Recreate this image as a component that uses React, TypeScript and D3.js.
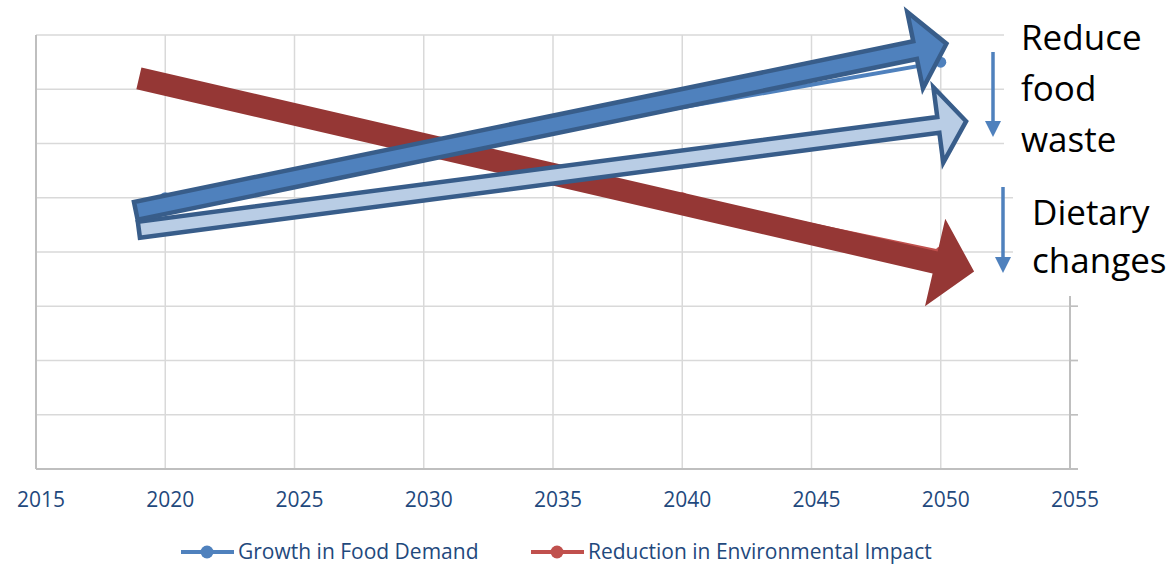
import React from "react";
import * as d3 from "d3";

// Series values
const growthYears = [2020, 2050];
const growthValues = [5, 7.5];
const impactYears = [2020, 2040, 2050];
const impactValues = [7, 5, 4];

// Axis ticks
const yearTicks = [2015, 2020, 2025, 2030, 2035, 2040, 2045, 2050, 2055];
const levelTicks = [0, 1, 2, 3, 4, 5, 6, 7, 8];

// Legend entries
const seriesNames = ["Growth in Food Demand", "Reduction in Environmental Impact"];

// Trend arrows in data units: [tailYear, tailLevel, tipYear, tipLevel]
const impactTrend = [2018.98, 7.2, 2051.29, 3.64];
const reducedDemandTrend = [2018.98, 4.41, 2050.98, 6.41];
const demandTrend = [2018.86, 4.76, 2050.22, 7.84];

// Side notes
const wasteNote = ["Reduce", "food", "waste"];
const dietNote = ["Dietary", "changes"];

const W = 1175;
const H = 565;
const FONT = "'Open Sans', 'DejaVu Sans', sans-serif";

const x = d3.scaleLinear().domain([2015, 2055]).range([36, 1070]);
const y = d3.scaleLinear().domain([0, 8]).range([469, 35]);

function blockArrow(
  t: number[],
  shaft: number,
  headW: number,
  headL: number
): string {
  const x0 = x(t[0]);
  const y0 = y(t[1]);
  const x1 = x(t[2]);
  const y1 = y(t[3]);
  const len = Math.hypot(x1 - x0, y1 - y0);
  const ux = (x1 - x0) / len;
  const uy = (y1 - y0) / len;
  const nx = -uy;
  const ny = ux;
  const bx = x1 - ux * headL;
  const by = y1 - uy * headL;
  const pts: [number, number][] = [
    [x0 + nx * shaft / 2, y0 + ny * shaft / 2],
    [bx + nx * shaft / 2, by + ny * shaft / 2],
    [bx + nx * headW / 2, by + ny * headW / 2],
    [x1, y1],
    [bx - nx * headW / 2, by - ny * headW / 2],
    [bx - nx * shaft / 2, by - ny * shaft / 2],
    [x0 - nx * shaft / 2, y0 - ny * shaft / 2],
  ];
  return "M" + pts.map((p) => p.join(",")).join("L") + "Z";
}

export default function App() {
  const growthLine = d3
    .line<number>()
    .x((_, i) => x(growthYears[i]))
    .y((v) => y(v))(growthValues) as string;
  const impactLine = d3
    .line<number>()
    .x((_, i) => x(impactYears[i]))
    .y((v) => y(v))(impactValues) as string;

  const blue = "#4F81BD";
  const red = "#C0504D";
  const textBlue = "#1F497D";

  return (
    <svg
      width={W}
      height={H}
      style={{ position: "absolute", left: 0, top: 0, background: "#fff" }}
    >
      {/* horizontal gridlines with right-side ticks */}
      {levelTicks.slice(1).map((v) => (
        <line
          key={"h" + v}
          x1={x(2015)}
          x2={x(2055) + 8}
          y1={y(v)}
          y2={y(v)}
          stroke="#D9D9D9"
          strokeWidth={1.5}
        />
      ))}
      {/* vertical gridlines */}
      {yearTicks.slice(1, -1).map((t) => (
        <line
          key={"v" + t}
          x1={x(t)}
          x2={x(t)}
          y1={y(8)}
          y2={y(0)}
          stroke="#D9D9D9"
          strokeWidth={1.5}
        />
      ))}
      {/* axes */}
      <line x1={x(2015)} x2={x(2015)} y1={y(8)} y2={y(0)} stroke="#BFBFBF" strokeWidth={2} />
      <line x1={x(2055)} x2={x(2055)} y1={y(8)} y2={y(0)} stroke="#BFBFBF" strokeWidth={2} />
      <line x1={x(2015)} x2={x(2055) + 8} y1={y(0)} y2={y(0)} stroke="#BFBFBF" strokeWidth={2} />
      {levelTicks.map((v) => (
        <line
          key={"rt" + v}
          x1={x(2055)}
          x2={x(2055) + 8}
          y1={y(v)}
          y2={y(v)}
          stroke="#BFBFBF"
          strokeWidth={1.5}
        />
      ))}

      {/* x tick labels */}
      {yearTicks.map((t) => (
        <text
          key={"xl" + t}
          x={x(t) + 5}
          y={507}
          textAnchor="middle"
          fontFamily={FONT}
          fontSize={21}
          fill={textBlue}
        >
          {t}
        </text>
      ))}

      {/* series */}
      <path d={growthLine} fill="none" stroke={blue} strokeWidth={4} />
      {growthValues.map((v, i) => (
        <circle key={"gm" + i} cx={x(growthYears[i])} cy={y(v)} r={5.5} fill={blue} />
      ))}
      <path d={impactLine} fill="none" stroke={red} strokeWidth={4} />
      {impactValues.map((v, i) => (
        <circle key={"im" + i} cx={x(impactYears[i])} cy={y(v)} r={5.5} fill={red} />
      ))}

      {/* trend arrows */}
      <path d={blockArrow(impactTrend, 22.5, 90, 40)} fill="#953735" />
      <path
        d={blockArrow(reducedDemandTrend, 16, 76, 28)}
        fill="#B9CDE5"
        stroke="#385D8A"
        strokeWidth={4.5}
        strokeLinejoin="miter"
        strokeMiterlimit={10}
      />
      <path
        d={blockArrow(demandTrend, 18, 78, 32)}
        fill={blue}
        stroke="#385D8A"
        strokeWidth={4.5}
        strokeLinejoin="miter"
        strokeMiterlimit={10}
      />

      {/* note boxes */}
      <rect x={1004} y={0} width={W - 1004} height={170} fill="#fff" />
      <rect x={1013} y={170} width={W - 1013} height={126} fill="#fff" />
      {wasteNote.map((s, i) => (
        <text key={"wn" + i} x={1021} y={50 + i * 51} fontFamily={FONT} fontSize={35} fill="#000">
          {s}
        </text>
      ))}
      {dietNote.map((s, i) => (
        <text key={"dn" + i} x={1032} y={225 + i * 48} fontFamily={FONT} fontSize={35} fill="#000">
          {s}
        </text>
      ))}
      {/* downward arrows beside the notes */}
      {[
        [993, 52, 137],
        [1003, 187, 273],
      ].map(([ax, ya, yb], i) => (
        <g key={"da" + i}>
          <line x1={ax} x2={ax} y1={ya} y2={yb - 14} stroke={blue} strokeWidth={3.5} />
          <path d={`M${ax - 8},${yb - 16}L${ax + 8},${yb - 16}L${ax},${yb}Z`} fill={blue} />
        </g>
      ))}

      {/* legend */}
      {seriesNames.map((name, i) => {
        const lx = i === 0 ? 181 : 531;
        const c = i === 0 ? blue : red;
        return (
          <g key={"lg" + i}>
            <line x1={lx} x2={lx + 53} y1={552} y2={552} stroke={c} strokeWidth={4} />
            <circle cx={lx + 26} cy={552} r={6.5} fill={c} />
            <text x={lx + 57} y={559} fontFamily={FONT} fontSize={21} fill={textBlue}>
              {name}
            </text>
          </g>
        );
      })}
    </svg>
  );
}
